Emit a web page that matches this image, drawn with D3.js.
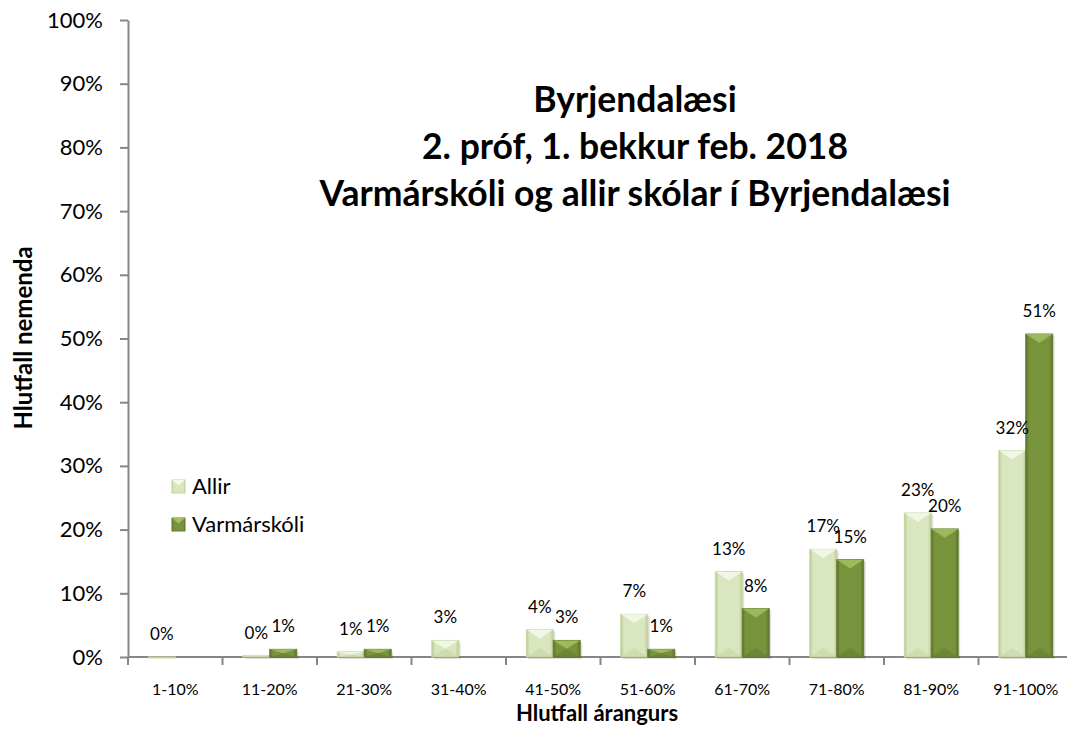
<!DOCTYPE html>
<html>
<head>
    <meta charset="utf-8">
    <title>Byrjendalæsi</title>
    <style>
        body { margin: 0; background: #fff; }
        svg { display: block; font-family: Lato, "Open Sans", sans-serif; }
    </style>
</head>
<body>
    <svg width="1067" height="735"></svg>
    <script src="https://d3js.org/d3.v7.min.js"></script>
    <script>
        // categories (result ranges)
        var categories = ["1-10%", "11-20%", "21-30%", "31-40%", "41-50%", "51-60%", "61-70%", "71-80%", "81-90%", "91-100%"];
        // share of pupils (null = no bar)
        var allir = [0.000, 0.002, 0.008, 0.026, 0.043, 0.067, 0.134, 0.169, 0.226, 0.324];
        var varmarskoli = [null, 0.012, 0.012, null, 0.026, 0.012, 0.076, 0.153, 0.201, 0.507];
        var seriesNames = ["Allir", "Varmárskóli"];
        var yTicks = [0, 0.1, 0.2, 0.3, 0.4, 0.5, 0.6, 0.7, 0.8, 0.9, 1.0];
        var titleLines = ["Byrjendalæsi", "2. próf, 1. bekkur feb. 2018", "Varmárskóli og allir skólar í Byrjendalæsi"];

        var svg = d3.select("svg");
        // plot area (right edge runs past the picture like in the original)
        var plotLeft = 128, plotRight = 1073, plotTop = 20, plotBottom = 657;

        var x = d3.scaleBand()
            .domain(categories)
            .range([plotLeft, plotRight])
            .paddingInner(0.43)
            .paddingOuter(0.215);
        var xs = d3.scaleBand()
            .domain(seriesNames)
            .range([0, x.bandwidth()]);
        var y = d3.scaleLinear().domain([0, 1]).range([plotBottom, plotTop]);

        // colours: base, light (top bevel), dark (edges)
        var colors = {
            "Allir": { base: "#d9e6c0", light: "#f4f9ea", dark: "#b7ca90", stroke: "#c4d6a0" },
            "Varmárskóli": { base: "#77933c", light: "#a3c060", dark: "#5a712b", stroke: "#637d30" }
        };

        // gradients for the bevel look
        var defs = svg.append("defs");
        seriesNames.forEach(function(name, i) {
            var c = colors[name];
            var grad = defs.append("linearGradient")
                .attr("id", "grad" + i)
                .attr("x1", 0).attr("x2", 1).attr("y1", 0).attr("y2", 0);
            grad.append("stop").attr("offset", "0%").attr("stop-color", c.dark);
            grad.append("stop").attr("offset", "12%").attr("stop-color", c.base);
            grad.append("stop").attr("offset", "88%").attr("stop-color", c.base);
            grad.append("stop").attr("offset", "100%").attr("stop-color", c.dark);
        });

        // y axis
        var yAxis = svg.append("g")
            .attr("transform", "translate(" + plotLeft + ",0)")
            .call(d3.axisLeft(y).tickValues(yTicks).tickFormat(d3.format(".0%")).tickSizeInner(8).tickSizeOuter(0).tickPadding(17));
        yAxis.selectAll("line, path").attr("stroke", "#868686").attr("stroke-width", 2);
        yAxis.selectAll("text")
            .attr("fill", "#000")
            .style("font-size", "22px")
            .style("font-family", "Lato, sans-serif");

        // x axis line and boundary ticks
        var xAxis = svg.append("g");
        xAxis.append("line")
            .attr("x1", plotLeft).attr("x2", plotRight)
            .attr("y1", plotBottom).attr("y2", plotBottom)
            .attr("stroke", "#868686").attr("stroke-width", 2);
        xAxis.selectAll(".tick")
            .data(categories)
            .enter()
            .append("line")
            .attr("x1", function(d) { return x(d) - x.step() * x.paddingOuter(); })
            .attr("x2", function(d) { return x(d) - x.step() * x.paddingOuter(); })
            .attr("y1", plotBottom)
            .attr("y2", plotBottom + 8)
            .attr("stroke", "#868686").attr("stroke-width", 2);
        xAxis.selectAll(".lbl")
            .data(categories)
            .enter()
            .append("text")
            .attr("x", function(d) { return x(d) + x.bandwidth() / 2; })
            .attr("y", plotBottom + 38)
            .attr("text-anchor", "middle")
            .style("font-size", "16px")
            .text(function(d) { return d; });

        // bars
        var rows = [];
        categories.forEach(function(cat, i) {
            rows.push({ cat: cat, series: "Allir", idx: 0, value: allir[i] });
            rows.push({ cat: cat, series: "Varmárskóli", idx: 1, value: varmarskoli[i] });
        });
        rows = rows.filter(function(r) { return r.value !== null; });

        var bars = svg.append("g")
            .selectAll("g")
            .data(rows)
            .enter()
            .append("g");

        // soft shadow on the right
        bars.append("rect")
            .attr("x", function(d) { return x(d.cat) + xs(d.series) + 2; })
            .attr("y", function(d) { return y(d.value) + 2; })
            .attr("width", xs.bandwidth())
            .attr("height", function(d) { return plotBottom - y(d.value); })
            .attr("fill", "#000")
            .attr("opacity", 0.12);

        bars.append("rect")
            .attr("x", function(d) { return x(d.cat) + xs(d.series); })
            .attr("y", function(d) { return y(d.value); })
            .attr("width", xs.bandwidth())
            .attr("height", function(d) { return Math.max(1, plotBottom - y(d.value)); })
            .attr("fill", function(d) { return "url(#grad" + d.idx + ")"; })
            .attr("stroke", function(d) { return colors[d.series].stroke; })
            .attr("stroke-width", 1);

        // top bevel (light chevron)
        bars.append("path")
            .attr("d", function(d) {
                var x0 = x(d.cat) + xs(d.series), w = xs.bandwidth();
                var y0 = y(d.value), h = plotBottom - y0;
                var b = Math.min(w * 0.33, h / 2);
                return "M" + x0 + "," + y0 + "H" + (x0 + w) + "L" + (x0 + w / 2) + "," + (y0 + b) + "Z";
            })
            .attr("fill", function(d) { return colors[d.series].light; })
            .attr("opacity", 0.85);

        // bottom bevel (faint)
        bars.append("path")
            .attr("d", function(d) {
                var x0 = x(d.cat) + xs(d.series), w = xs.bandwidth();
                var y0 = y(d.value), h = plotBottom - y0;
                var b = Math.min(w * 0.33, h / 2);
                return "M" + x0 + "," + plotBottom + "H" + (x0 + w) + "L" + (x0 + w / 2) + "," + (plotBottom - b) + "Z";
            })
            .attr("fill", function(d) { return colors[d.series].dark; })
            .attr("opacity", 0.35);

        // data labels
        svg.append("g")
            .selectAll("text")
            .data(rows)
            .enter()
            .append("text")
            .attr("x", function(d) { return x(d.cat) + xs(d.series) + xs.bandwidth() / 2; })
            .attr("y", function(d) { return y(d.value) - 17; })
            .attr("text-anchor", "middle")
            .style("font-size", "17px")
            .text(function(d) { return d3.format(".0%")(d.value); });

        // title
        svg.append("g")
            .selectAll("text")
            .data(titleLines)
            .enter()
            .append("text")
            .attr("x", 635)
            .attr("y", function(d, i) { return 112 + i * 47; })
            .attr("text-anchor", "middle")
            .style("font-size", "35.5px")
            .style("font-weight", "bold")
            .text(function(d) { return d; });

        // axis titles
        svg.append("text")
            .attr("x", 597)
            .attr("y", 721)
            .attr("text-anchor", "middle")
            .style("font-size", "22px")
            .style("font-weight", "bold")
            .text("Hlutfall árangurs");
        svg.append("text")
            .attr("transform", "translate(32,338) rotate(-90)")
            .attr("text-anchor", "middle")
            .style("font-size", "24px")
            .style("font-weight", "bold")
            .text("Hlutfall nemenda");

        // legend
        var legend = svg.append("g")
            .selectAll("g")
            .data(seriesNames)
            .enter()
            .append("g")
            .attr("transform", function(d, i) { return "translate(172," + (480 + i * 38) + ")"; });
        legend.append("rect")
            .attr("width", 13).attr("height", 13)
            .attr("fill", function(d, i) { return "url(#grad" + i + ")"; })
            .attr("stroke", function(d) { return colors[d].stroke; });
        legend.append("path")
            .attr("d", "M0,0H13L6.5,5.5Z")
            .attr("fill", function(d) { return colors[d].light; });
        legend.append("text")
            .attr("x", 20)
            .attr("y", 14)
            .style("font-size", "22px")
            .text(function(d) { return d; });
    </script>
</body>
</html>
